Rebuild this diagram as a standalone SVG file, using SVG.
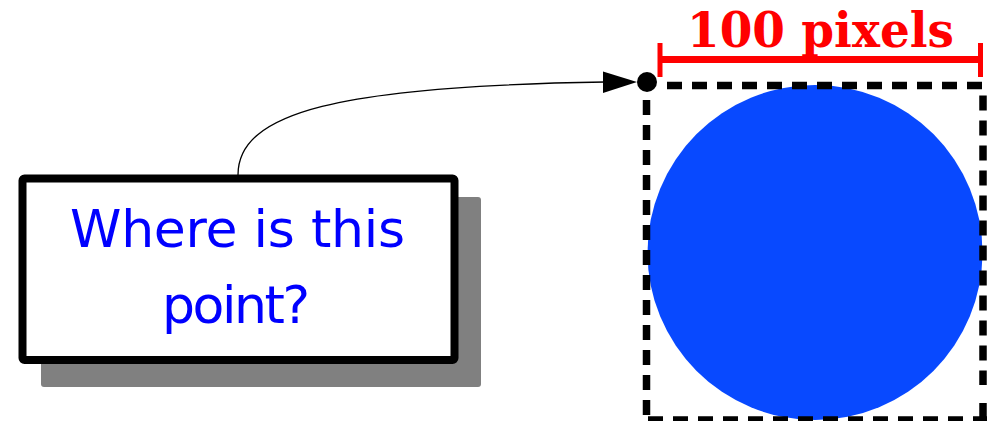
<svg xmlns="http://www.w3.org/2000/svg" width="988" height="421" viewBox="0 0 988 421">
  <style>
    .dash { stroke: #000; stroke-width: 7.5; stroke-dasharray: 15 10; fill: none; }
    .dim { stroke: #ff0000; fill: none; }
    .hand { font-family: "Comic Sans MS", "DejaVu Sans", sans-serif; font-size: 52px; fill: #0000ff; text-anchor: middle; }
    .lbl { font-family: "DejaVu Serif", "Liberation Serif", serif; font-weight: bold; font-size: 48px; fill: #ff0000; text-anchor: middle; }
  </style>
  <rect width="988" height="421" fill="#ffffff"/>

  <g id="circle-node">
    <circle cx="815" cy="252.5" r="167.5" fill="#0849ff"/>
    <line class="dash" x1="667" y1="85.5" x2="983" y2="85.5"/>
    <line class="dash" x1="983" y1="95.5" x2="983" y2="385"/>
    <line x1="983" y1="403" x2="983" y2="417" stroke="#000" stroke-width="7.5"/>
    <line class="dash" x1="648" y1="420" x2="987" y2="420"/>
    <line class="dash" x1="646.5" y1="100" x2="646.5" y2="415"/>
  </g>

  <g id="dimension">
    <line class="dim" x1="660" y1="59.5" x2="980.5" y2="59.5" stroke-width="7"/>
    <line class="dim" x1="660" y1="43" x2="660" y2="77" stroke-width="5"/>
    <line class="dim" x1="980.5" y1="43" x2="980.5" y2="77" stroke-width="5"/>
    <text class="lbl" x="820.5" y="47" textLength="267" lengthAdjust="spacingAndGlyphs">100 pixels</text>
  </g>

  <g id="question-node">
    <rect x="41" y="197" width="440" height="190" rx="3" fill="#808080"/>
    <rect x="22.5" y="178.5" width="432" height="181.5" rx="2" fill="#ffffff" stroke="#000" stroke-width="8"/>
    <text class="hand" x="237.5" y="247" textLength="335">Where is this</text>
    <text class="hand" x="236" y="323" textLength="148">point?</text>
  </g>

  <g id="point-node">
    <circle cx="647" cy="82" r="10" fill="#000"/>
  </g>

  <g id="connectors">
    <path d="M238,175 C238,112 340,86 605,82" fill="none" stroke="#000" stroke-width="1.3"/>
    <polygon points="603,71.5 637,82 603,93" fill="#000"/>
  </g>
</svg>
